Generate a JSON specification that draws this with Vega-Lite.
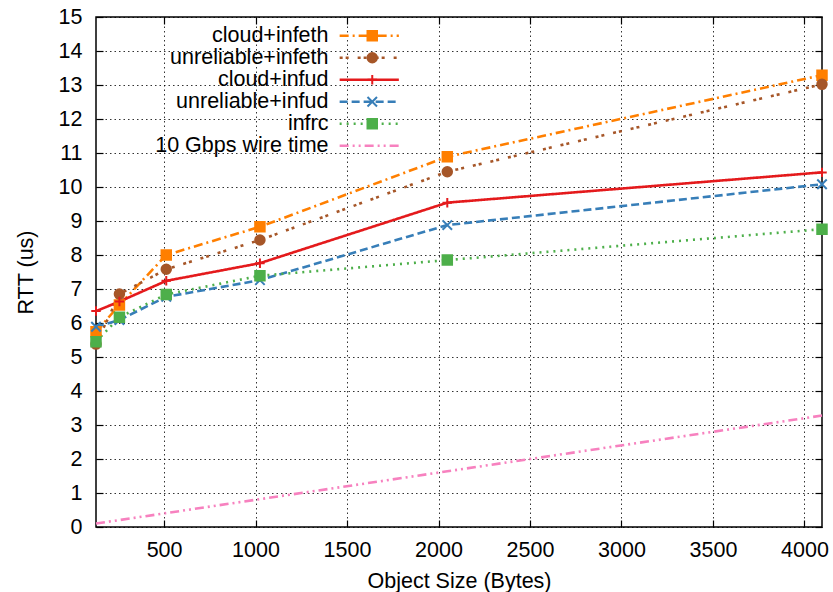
{
  "$schema": "https://vega.github.io/schema/vega-lite/v6.json",
  "width": 726,
  "height": 510,
  "autosize": {"type": "none"},
  "padding": {"left": 96, "top": 17, "right": 11, "bottom": 65},
  "background": "white",
  "config": {
    "view": {"stroke": "black", "strokeWidth": 1.5},
    "font": "Liberation Sans",
    "axis": {
      "domain": false,
      "labelFontSize": 21.5, "titleFontSize": 21.5,
      "labelColor": "black", "titleColor": "black",
      "titleFontWeight": "normal",
      "labelFont": "Liberation Sans", "titleFont": "Liberation Sans",
      "tickColor": "black", "tickWidth": 1.2, "tickSize": -7,
      "gridColor": "black", "gridDash": [1.5, 3], "gridOpacity": 0.8, "gridWidth": 1
    },
    "legend": {
      "labelFont": "Liberation Sans", "labelFontSize": 21.5, "labelColor": "black",
      "padding": 0, "rowPadding": -1, "labelLimit": 400
    }
  },
  "data": {"values": [
    {"series": "cloud+infeth", "size": 128, "rtt": 5.74},
    {"series": "cloud+infeth", "size": 256, "rtt": 6.53},
    {"series": "cloud+infeth", "size": 512, "rtt": 8.0},
    {"series": "cloud+infeth", "size": 1024, "rtt": 8.83},
    {"series": "cloud+infeth", "size": 2048, "rtt": 10.89},
    {"series": "cloud+infeth", "size": 4096, "rtt": 13.29},
    {"series": "unreliable+infeth", "size": 128, "rtt": 5.38},
    {"series": "unreliable+infeth", "size": 256, "rtt": 6.85},
    {"series": "unreliable+infeth", "size": 512, "rtt": 7.58},
    {"series": "unreliable+infeth", "size": 1024, "rtt": 8.44},
    {"series": "unreliable+infeth", "size": 2048, "rtt": 10.45},
    {"series": "unreliable+infeth", "size": 4096, "rtt": 13.02},
    {"series": "cloud+infud", "size": 128, "rtt": 6.35},
    {"series": "cloud+infud", "size": 256, "rtt": 6.63},
    {"series": "cloud+infud", "size": 512, "rtt": 7.24},
    {"series": "cloud+infud", "size": 1024, "rtt": 7.76},
    {"series": "cloud+infud", "size": 2048, "rtt": 9.54},
    {"series": "cloud+infud", "size": 4096, "rtt": 10.43},
    {"series": "unreliable+infud", "size": 128, "rtt": 5.89},
    {"series": "unreliable+infud", "size": 256, "rtt": 6.09},
    {"series": "unreliable+infud", "size": 512, "rtt": 6.77},
    {"series": "unreliable+infud", "size": 1024, "rtt": 7.26},
    {"series": "unreliable+infud", "size": 2048, "rtt": 8.88},
    {"series": "unreliable+infud", "size": 4096, "rtt": 10.08},
    {"series": "infrc", "size": 128, "rtt": 5.45},
    {"series": "infrc", "size": 256, "rtt": 6.17},
    {"series": "infrc", "size": 512, "rtt": 6.84},
    {"series": "infrc", "size": 1024, "rtt": 7.39},
    {"series": "infrc", "size": 2048, "rtt": 7.85},
    {"series": "infrc", "size": 4096, "rtt": 8.76},
    {"series": "10 Gbps wire time", "size": 128, "rtt": 0.1024},
    {"series": "10 Gbps wire time", "size": 256, "rtt": 0.2048},
    {"series": "10 Gbps wire time", "size": 512, "rtt": 0.4096},
    {"series": "10 Gbps wire time", "size": 1024, "rtt": 0.8192},
    {"series": "10 Gbps wire time", "size": 2048, "rtt": 1.6384},
    {"series": "10 Gbps wire time", "size": 4096, "rtt": 3.2768}
  ]},
  "layer": [
    {
      "mark": {"type": "line", "strokeWidth": 2.6, "strokeCap": "butt"},
      "encoding": {
        "x": {"field": "size", "type": "quantitative",
          "scale": {"domain": [128, 4096], "nice": false, "zero": false},
          "axis": {"values": [500, 1000, 1500, 2000, 2500, 3000, 3500, 4000], "format": "d", "title": "Object Size (Bytes)", "labelPadding": 19, "titlePadding": 10, "grid": true}},
        "y": {"field": "rtt", "type": "quantitative",
          "scale": {"domain": [0, 15], "nice": false},
          "axis": {"values": [0, 1, 2, 3, 4, 5, 6, 7, 8, 9, 10, 11, 12, 13, 14, 15], "format": "d", "title": "RTT (us)", "labelPadding": 21, "titlePadding": 21, "grid": true}},
        "color": {"field": "series", "type": "nominal",
          "scale": {"domain": ["cloud+infeth", "unreliable+infeth", "cloud+infud", "unreliable+infud", "infrc", "10 Gbps wire time"],
                    "range": ["#ff7f00", "#a65628", "#e41a1c", "#377eb8", "#4daf4a", "#f781bf"]},
          "legend": {"orient": "none", "legendX": 262.5, "legendY": 8, "direction": "vertical", "title": null,
                     "symbolType": "M-7.4,0H7.4", "symbolSize": 64, "symbolStrokeWidth": 2.6,
                     "labelAlign": "right", "labelBaseline": "middle", "labelOffset": -51.5}},
        "strokeDash": {"field": "series", "type": "nominal",
          "scale": {"domain": ["cloud+infeth", "unreliable+infeth", "cloud+infud", "unreliable+infud", "infrc", "10 Gbps wire time"],
                    "range": [[9, 4, 2, 4], [3, 3, 3, 9], [1, 0], [8, 4], [2, 5], [9, 4, 2, 4, 2, 4]]},
          "legend": {"orient": "none", "legendX": 262.5, "legendY": 8, "direction": "vertical", "title": null,
                     "symbolType": "M-7.4,0H7.4", "symbolSize": 64, "symbolStrokeWidth": 2.6,
                     "labelAlign": "right", "labelBaseline": "middle", "labelOffset": -51.5}}
      }
    },
    {
      "transform": [{"filter": "datum.series !== '10 Gbps wire time'"}],
      "mark": {"type": "point", "filled": true, "size": 90, "opacity": 1, "strokeWidth": 2},
      "encoding": {
        "x": {"field": "size", "type": "quantitative",
          "scale": {"domain": [128, 4096], "nice": false, "zero": false},
          "axis": {"orient": "top", "values": [500, 1000, 1500, 2000, 2500, 3000, 3500, 4000], "labels": false, "grid": false, "title": null}},
        "y": {"field": "rtt", "type": "quantitative",
          "scale": {"domain": [0, 15], "nice": false},
          "axis": {"orient": "right", "values": [0, 1, 2, 3, 4, 5, 6, 7, 8, 9, 10, 11, 12, 13, 14, 15], "labels": false, "grid": false, "title": null}},
        "fill": {"field": "series", "type": "nominal",
          "scale": {"domain": ["cloud+infeth", "unreliable+infeth", "cloud+infud", "unreliable+infud", "infrc"],
                    "range": ["#ff7f00", "#a65628", "#e41a1c", "#377eb8", "#4daf4a"]},
          "legend": {"orient": "none", "legendX": 265.5, "legendY": 8, "direction": "vertical", "title": null,
                     "symbolSize": 90, "symbolStrokeWidth": 2, "labelOpacity": 0, "labelBaseline": "middle"}},
        "stroke": {"field": "series", "type": "nominal",
          "scale": {"domain": ["cloud+infeth", "unreliable+infeth", "cloud+infud", "unreliable+infud", "infrc"],
                    "range": ["#ff7f00", "#a65628", "#e41a1c", "#377eb8", "#4daf4a"]},
          "legend": {"orient": "none", "legendX": 265.5, "legendY": 8, "direction": "vertical", "title": null,
                     "symbolSize": 90, "symbolStrokeWidth": 2, "labelOpacity": 0, "labelBaseline": "middle"}},
        "shape": {"field": "series", "type": "nominal",
          "scale": {"domain": ["cloud+infeth", "unreliable+infeth", "cloud+infud", "unreliable+infud", "infrc"],
                    "range": ["square", "circle", "M-1,0H1M0,-1V1", "M-1,-1L1,1M-1,1L1,-1", "square"]},
          "legend": {"orient": "none", "legendX": 265.5, "legendY": 8, "direction": "vertical", "title": null,
                     "symbolSize": 90, "symbolStrokeWidth": 2, "labelOpacity": 0, "labelBaseline": "middle"}}
      }
    }
  ],
  "resolve": {"axis": {"x": "independent", "y": "independent"}}
}
